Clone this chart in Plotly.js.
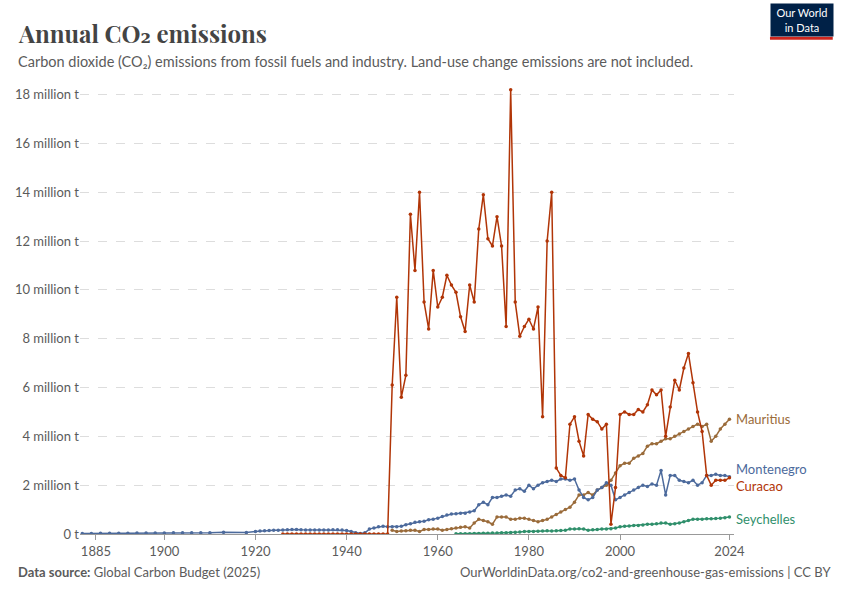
<!DOCTYPE html>
<html><head><meta charset="utf-8">
<script src="https://cdn.plot.ly/plotly-3.0.1.min.js"></script>
<style>body{margin:0;background:#fff}#plot{width:850px;height:600px}</style>
</head><body><div id="plot"></div>
<script>
function range(a, b) { const r = []; for (let y = a; y <= b; y++) r.push(y); return r; }

const curacaoYears = range(1926, 2024);
const curacaoValues = [
  0,0,0,0,0,0,0,0,0,0,0,0,0,0,0,0,0,0,0,0,0,0,0,0,
  6.1,9.7,5.6,6.5,13.1,10.8,14.0,9.5,8.4,10.8,
  9.3,9.7,10.6,10.2,9.9,8.9,8.3,10.2,9.5,12.5,
  13.9,12.1,11.8,13.0,11.8,8.5,18.2,9.5,8.1,8.5,
  8.8,8.4,9.3,4.8,12.0,14.0,2.7,2.4,2.3,4.5,
  4.8,3.8,3.2,4.9,4.7,4.6,4.3,4.5,0.4,1.9,
  4.9,5.0,4.9,4.9,5.1,5.0,5.3,5.9,5.7,5.9,
  4.0,5.2,6.3,5.9,6.8,7.4,6.2,5.0,4.2,2.4,
  2.0,2.2,2.2,2.2,2.3
];

const montenegroYears = [1882,1884,1886,1888,1890,1892,1894,1896,1898,1900,1902,1904,1906,1908,1910,1913,1918].concat(range(1920, 2024));
const montenegroValues = [
  0.02,0.02,0.03,0.03,0.03,0.03,0.04,0.04,0.04,0.04,0.05,0.05,0.05,0.05,0.05,0.07,0.06,
  0.1,0.12,0.13,0.14,0.15,0.15,0.16,0.17,0.18,0.18,
  0.17,0.16,0.16,0.16,0.16,0.16,0.16,0.17,0.17,0.16,
  0.14,0.10,0.05,0.02,0.05,0.2,0.25,0.3,0.32,0.3,
  0.3,0.3,0.32,0.38,0.42,0.48,0.5,0.52,0.58,0.6,
  0.65,0.72,0.78,0.82,0.83,0.85,0.85,0.9,0.95,1.2,
  1.3,1.2,1.5,1.5,1.55,1.6,1.55,1.8,1.85,1.75,
  2.0,1.85,2.0,2.1,2.15,2.2,2.15,2.25,2.25,2.2,
  2.25,1.8,1.5,1.4,1.5,1.8,1.9,2.1,2.0,1.4,
  1.5,1.6,1.7,1.8,1.9,2.0,1.95,2.05,2.0,2.6,
  1.6,2.4,2.4,2.2,2.15,2.1,2.2,2.0,2.1,2.4,
  2.4,2.45,2.4,2.4,2.35
];

const mauritiusYears = range(1950, 2024);
const mauritiusValues = [
  0.15,0.1,0.12,0.13,0.15,0.15,0.1,0.18,0.18,0.2,
  0.2,0.15,0.18,0.22,0.25,0.28,0.3,0.25,0.45,0.6,
  0.55,0.5,0.4,0.7,0.7,0.7,0.6,0.6,0.65,0.65,
  0.6,0.55,0.5,0.55,0.6,0.7,0.8,0.9,1.0,1.1,
  1.3,1.6,1.6,1.7,1.6,1.8,1.9,2.0,2.2,2.5,
  2.8,2.9,2.9,3.1,3.2,3.3,3.6,3.7,3.7,3.8,
  3.9,3.9,4.0,4.1,4.2,4.3,4.4,4.5,4.4,4.5,
  3.8,4.0,4.3,4.5,4.7
];

const seychellesYears = range(1964, 2024);
const seychellesValues = [
  0.01,0.01,0.01,0.01,0.02,0.02,0.03,0.03,0.04,0.04,
  0.05,0.05,0.06,0.07,0.08,0.1,0.1,0.1,0.11,0.12,
  0.13,0.12,0.13,0.14,0.15,0.2,0.2,0.22,0.2,0.15,
  0.17,0.18,0.2,0.2,0.22,0.25,0.3,0.32,0.33,0.35,
  0.35,0.37,0.4,0.4,0.42,0.45,0.45,0.4,0.42,0.45,
  0.5,0.55,0.6,0.6,0.6,0.62,0.62,0.63,0.65,0.67,0.7
];

const series = [
  {name: 'Mauritius', x: mauritiusYears, y: mauritiusValues, color: '#9a6b3a'},
  {name: 'Montenegro', x: montenegroYears, y: montenegroValues, color: '#4c6a9c'},
  {name: 'Seychelles', x: seychellesYears, y: seychellesValues, color: '#2f8f6b'},
  {name: 'Curacao', x: curacaoYears, y: curacaoValues, color: '#b13507'}
];

const labelY = {Mauritius: 4.7, Montenegro: 2.65, Curacao: 1.95, Seychelles: 0.6};

const data = series.map(s => ({
  x: s.x, y: s.y, name: s.name, type: 'scatter', mode: 'lines+markers',
  line: {color: s.color, width: 1.5}, marker: {color: s.color, size: 3.5},
  hovertemplate: '%{x}: %{y:.2f} million t<extra>' + s.name + '</extra>'
}));

const annotations = series.map(s => ({
  x: 2025, y: labelY[s.name], xref: 'x', yref: 'y', text: s.name, showarrow: false,
  xanchor: 'left', font: {family: 'Lato', size: 13, color: s.color}
}));

const layout = {
  width: 850, height: 600,
  margin: {l: 80, r: 116, t: 80, b: 66},
  showlegend: false,
  font: {family: 'Lato', color: '#5b5b5b'},
  xaxis: {
    range: [1881.5, 2025], tickvals: [1885, 1900, 1920, 1940, 1960, 1980, 2000, 2024],
    showgrid: false, zeroline: false, showline: true, linecolor: '#999',
    ticks: 'outside', tickcolor: '#999', ticklen: 5, tickfont: {size: 13}
  },
  yaxis: {
    range: [0, 18.6], tickvals: [0, 2, 4, 6, 8, 10, 12, 14, 16, 18],
    ticktext: ['0 t', '2 million t', '4 million t', '6 million t', '8 million t', '10 million t',
      '12 million t', '14 million t', '16 million t', '18 million t'],
    gridcolor: '#dddddd', griddash: 'dash', zeroline: false, tickfont: {size: 13}
  },
  annotations: annotations.concat([
    {xref: 'paper', yref: 'paper', x: -0.098, y: 1.143, xanchor: 'left', showarrow: false,
     text: '<b>Annual CO₂ emissions</b>', font: {family: 'Playfair Display, DejaVu Serif, serif', size: 24, color: '#444'}},
    {xref: 'paper', yref: 'paper', x: -0.098, y: 1.063, xanchor: 'left', showarrow: false,
     text: 'Carbon dioxide (CO₂) emissions from fossil fuels and industry. Land-use change emissions are not included.',
     font: {size: 14.5, color: '#5b5b5b'}},
    {xref: 'paper', yref: 'paper', x: -0.098, y: -0.105, xanchor: 'left', showarrow: false,
     text: '<b>Data source:</b> Global Carbon Budget (2025)', font: {size: 13, color: '#5b5b5b'}},
    {xref: 'paper', yref: 'paper', x: 1.151, y: -0.105, xanchor: 'right', showarrow: false,
     text: 'OurWorldinData.org/co2-and-greenhouse-gas-emissions | CC BY', font: {size: 13, color: '#5b5b5b'}},
    {xref: 'paper', yref: 'paper', x: 1.055, y: 1.17, xanchor: 'left', yanchor: 'top', showarrow: false,
     text: 'Our World<br>in Data', bgcolor: '#002147', width: 60, height: 30,
     font: {size: 11, color: '#fff'}}
  ]),
  shapes: [
    {type: 'line', xref: 'paper', yref: 'paper', x0: 1.055, x1: 1.151, y0: 1.092, y1: 1.092,
     line: {color: '#ce261e', width: 3}}
  ]
};

Plotly.newPlot('plot', data, layout, {displayModeBar: false});
</script>
</body></html>
